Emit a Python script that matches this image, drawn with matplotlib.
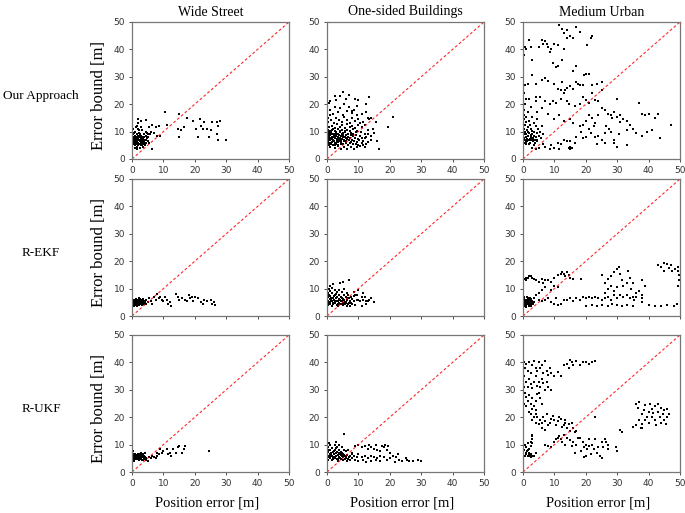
import matplotlib
matplotlib.use("Agg")
import matplotlib.pyplot as plt
import numpy as np

columns = ["Wide Street", "One-sided Buildings", "Medium Urban"]
rows = ["Our Approach", "R-EKF", "R-UKF"]
ticks = [0, 10, 20, 30, 40, 50]

# (position error, error bound) pairs
ws_ours = [
    (0.2, 6.5), (0.3, 8), (0.4, 5.5), (0.5, 7), (0.5, 9.5), (0.6, 6), (0.7, 7.5), (0.8, 5), (0.9, 8.5),
    (1.0, 6.5), (1.0, 10), (1.1, 7), (1.2, 5.5), (1.3, 8), (1.4, 6), (1.5, 9), (1.5, 4.5), (1.6, 7),
    (1.7, 6.5), (1.8, 8.5), (1.9, 5), (2.0, 7.5), (2.0, 6), (2.1, 9.5), (2.2, 7), (2.3, 5.5), (2.4, 8),
    (2.5, 6.5), (2.5, 4), (2.6, 7), (2.7, 9), (2.8, 6), (2.9, 7.5), (3.0, 5), (3.0, 8.5), (3.1, 6.5),
    (3.2, 7), (3.3, 10.5), (3.4, 6), (3.5, 7.5), (3.6, 5.5), (3.7, 8), (3.8, 6.5), (3.9, 9), (4.0, 7),
    (4.1, 5), (4.2, 6), (4.3, 8.5), (4.5, 7), (4.6, 6), (4.8, 7.5), (5.0, 6.5), (5.2, 8), (5.5, 6),
    (0.3, 11), (1.2, 11.5), (2.2, 10.5), (0.8, 4), (1.5, 3.5), (3.5, 4.5), (4.4, 10), (0.6, 8.2),
    (1.4, 7.7), (2.6, 8.3), (3.3, 5.2), (0.2, 9), (1.8, 10.8), (4.9, 9.5), (5.8, 9), (0.4, 7.2),
    (1.1, 6.2), (1.9, 7.2), (2.4, 6.8), (3.6, 6.8), (0.9, 7.8), (2.8, 7.2), (1.6, 5.8), (3.1, 7.9),
    (2, 14.5), (3, 14), (1.5, 12), (4.5, 14.3), (6.5, 12.5), (7.5, 11.5), (8.5, 12), (10.5, 17),
    (11, 12.5), (8, 8.5), (9, 8.5), (6.5, 3.5), (14.5, 11), (15, 16.5), (15, 8), (15.5, 10.5),
    (16.5, 11.5), (17.5, 15), (19.5, 14), (20.5, 11), (21, 8), (21.5, 14.5), (22, 12), (22.5, 11),
    (23, 13.5), (24, 11), (24.5, 8), (25, 10.5), (25.5, 13.5), (27, 13.5), (27, 9), (27.5, 7),
    (27.5, 12), (28, 14), (30, 7), (5, 9), (6, 10), (2, 13), (3, 11.5), (5.5, 11.5), (7, 9.5),
]

os_ours = [
    (1, 4.5), (2.5, 4), (3.5, 4.8), (4.5, 3.8), (5.5, 4.2), (6.5, 3.5), (7.5, 4.5), (8.5, 3.8),
    (9.5, 4.2), (10.5, 4.8), (12, 4.5), (0.5, 5), (0.3, 5.5), (1.2, 5.8), (2, 5.2), (2.8, 5.6),
    (3.6, 5.1), (4.3, 5.9), (5.1, 5.4), (5.9, 5.7), (6.7, 5.2), (7.4, 5.8), (8.2, 5.3), (9.1, 5.6),
    (10, 5.1), (11, 5.9), (12.5, 5.5), (0.2, 6.4), (0.9, 6.8), (1.6, 6.2), (2.3, 6.7), (3.1, 6.3),
    (3.8, 6.9), (4.6, 6.1), (5.3, 6.6), (6.1, 6.4), (6.9, 6.8), (7.7, 6.2), (8.6, 6.7), (9.4, 6.3),
    (10.3, 6.9), (11.5, 6.5), (13, 6.2), (0.4, 7.3), (1.1, 7.7), (1.8, 7.1), (2.6, 7.6), (3.3, 7.2),
    (4.1, 7.8), (4.8, 7.4), (5.6, 7.9), (6.4, 7.3), (7.2, 7.7), (8, 7.1), (8.9, 7.6), (9.8, 7.4),
    (11, 7.8), (12.5, 8), (14, 8.5), (0.2, 8.4), (0.8, 8.8), (1.5, 8.2), (2.2, 8.7), (2.9, 8.3),
    (3.7, 8.9), (4.4, 8.5), (5.2, 8.1), (6, 8.6), (6.8, 8.2), (7.6, 8.8), (8.4, 8.4), (9.3, 8.9),
    (10.5, 8.5), (12, 9), (0.5, 9.3), (1.3, 9.7), (2, 9.1), (2.8, 9.6), (3.5, 9.2), (4.2, 9.8),
    (5, 9.4), (5.8, 9.9), (6.6, 9.3), (7.5, 9.6), (8.3, 9.1), (9.2, 9.8), (10.8, 10), (0.3, 10.5),
    (1, 10.2), (1.8, 10.8), (2.6, 10.4), (3.4, 10.9), (4.1, 10.3), (4.9, 10.7), (5.7, 10.1),
    (6.5, 10.6), (7.3, 10.2), (8.2, 10.8), (9.5, 10.4), (0.6, 11.5), (1.5, 12.2), (2.4, 11.3),
    (3.2, 12.6), (4, 11.8), (4.8, 12.4), (5.6, 11.2), (6.4, 12.8), (7.2, 11.6), (8.1, 12.1),
    (9, 11.4), (10, 12.5), (11, 11.8), (12, 12.3), (0.4, 13.5), (1.3, 14.2), (2.2, 13.1), (3, 15),
    (3.9, 14.1), (4.7, 13.6), (5.5, 15.5), (6.3, 14.3), (7.2, 13.3), (8.1, 14.8), (9, 13.8),
    (10, 14.5), (11.5, 13.5), (0.8, 16), (2, 16.5), (3.5, 17), (5, 16.2), (6.5, 17.5), (8, 16.8),
    (9.5, 16), (0.3, 15), (1, 18), (2.5, 19), (4, 18.5), (5.5, 20), (0.5, 20.5), (3, 21.5), (7, 19),
    (8.5, 18), (9.5, 19.5), (0.1, 7), (0.7, 6), (1.4, 9), (2.1, 7.9), (2.7, 5.9), (3.4, 8.1), (4, 6.6),
    (4.7, 9.1), (1.9, 6.4), (3, 10), (0.5, 8), (1.7, 10.5), (2.4, 5), (3.8, 7.4), (4.5, 5.4),
    (1, 7.2), (2.2, 9.3), (3.6, 6.2), (0.4, 9.8), (1.3, 5.3), (0.6, 7.8), (1.6, 7.4), (2.5, 8.2),
    (3.2, 6.8), (4.3, 7.1), (5.4, 6.9), (6.2, 7.8), (0.9, 9.4), (2.9, 9.1), (5.1, 8.8),
    (5, 24.5), (2.5, 23), (7, 23.5), (10, 21.5), (13.5, 22.8), (1, 21), (6, 22), (12.5, 20),
    (13, 15), (14, 15), (13.5, 14.5), (21, 15.5), (19.5, 11.5), (15.5, 13.5), (16, 6.5),
    (16.5, 3.5), (13, 9), (12, 7.5), (11.5, 5), (10.5, 13), (14.5, 11), (13, 10.5), (15, 9.5),
    (12.5, 17), (11, 16.5), (14, 7), (9, 22), (4, 23), (8, 17.5),
]

mu_ours = [
    (0.2, 6), (0.4, 7.5), (0.6, 9), (0.8, 5.5), (1, 8), (1.2, 10.5), (1.4, 6.5), (1.6, 8.5), (1.8, 7),
    (2, 9.5), (2.2, 6), (2.4, 8), (2.6, 11), (2.8, 7.5), (3, 9), (3.2, 6.5), (3.4, 8.5), (3.6, 10),
    (3.8, 7), (4, 12), (4.2, 8), (4.4, 9.5), (4.6, 6.5), (4.8, 11), (5, 8.5), (0.3, 11), (0.5, 12.5),
    (1, 13.5), (0.2, 9.5), (1.5, 11.5), (2.3, 12.5), (3.5, 13), (0.7, 10), (1.3, 7.2), (1.9, 5.5),
    (2.5, 6.8), (3.1, 7.8), (3.7, 5.8), (4.3, 7), (0.1, 8.3), (0.9, 6.3), (1.7, 9.8), (2.9, 10.3),
    (5.5, 10), (6, 12), (5.8, 7.5), (6.5, 9), (0.5, 7), (1.1, 9.2), (2.1, 7.4), (2.7, 8.8), (3.3, 7.1),
    (0.4, 16), (0.3, 18), (0.6, 20), (0.2, 14.5), (1, 15.5), (2, 14), (3, 15.5), (4.5, 14.5),
    (1.5, 17), (2.5, 19), (0.8, 22), (4, 21), (0.3, 24), (0.5, 27),
    (11.5, 49), (12.5, 47.5), (14, 47), (15, 45), (16, 44), (17, 48), (18, 46.5), (13, 46), (14, 44),
    (22, 45), (21.5, 44), (20.5, 41.5), (10, 42), (11, 41.5), (8, 41), (7, 43), (7.5, 42), (6, 43.5),
    (6.5, 42), (5, 41), (1, 40), (0.5, 41), (0.3, 38), (2.5, 41), (3, 36), (2, 43.5), (8.5, 39),
    (9.5, 35), (10.5, 33.5), (11, 34), (12.5, 36), (13, 40), (9, 40), (3, 30.5), (1.5, 27.5),
    (4, 27.5), (6, 29), (7, 29.5), (8, 28.5), (10, 27.5), (12.5, 28), (11, 25.5), (12, 25),
    (13.5, 25), (14, 26), (15, 26.5), (16, 25.5), (17, 28), (17.5, 27.5), (18, 27), (19, 27),
    (19.5, 30.5), (20, 31), (21, 31), (16, 32), (17, 34), (22, 27), (23.5, 27.5), (25, 28), (22, 24),
    (21, 20.5), (24, 21), (25, 25), (23, 21.5), (2, 22), (4, 22.5), (5.5, 22.5), (7, 21), (8.5, 20),
    (9.5, 21), (10.5, 20.5), (12, 22), (13, 24), (14, 21), (14.5, 20), (16.5, 19.5), (18, 20),
    (19, 22.5), (20, 21.5), (4.5, 17), (6, 18.5), (8, 16.5), (10, 14.5), (11.5, 16), (13, 14),
    (15, 14.5), (16, 13), (18, 12), (19, 12.5), (20, 14), (21, 16), (22, 15), (23, 13), (24, 16),
    (25, 18.5), (26, 18), (27, 16.5), (28, 16), (28.5, 15), (29, 17), (30, 15.5), (30, 22), (31, 16),
    (32, 14.5), (31, 13.5), (33, 14), (34, 12.5), (35, 11), (36, 9.5), (37, 20.5), (38, 16.5),
    (39, 16), (40, 16.5), (39.5, 10), (38, 8.5), (41, 10.5), (42, 15), (43, 16.5), (43.5, 7.5),
    (47, 12.5), (33, 10.5), (30.5, 9), (28, 10), (29, 7), (26, 9.5), (26, 6), (25, 7), (24, 8.5),
    (23, 8), (23.5, 5.5), (21.5, 9.5), (20, 8), (18.5, 10), (17, 8), (16.5, 6), (15, 6.5), (15, 4.5),
    (14, 6.5), (13, 7), (12, 5.5), (11, 6), (11.5, 3.5), (10, 4), (9, 5), (8.5, 3.5), (7, 4.5),
    (6.5, 5.5), (5, 4), (4, 3.5), (3, 4), (3.5, 5), (33, 5), (30, 4.5), (29, 6), (26.5, 12),
    (27.5, 11), (19, 7.5), (21, 11), (22.5, 12), (14.5, 4), (15.5, 4), (15, 3.5),
]

ws_ekf = [
    (0.1, 4.5), (0.3, 5.2), (0.5, 4), (0.7, 5.8), (0.9, 4.8), (1.1, 5.5), (1.3, 4.2), (1.5, 6),
    (1.7, 5), (1.9, 4.4), (2.1, 5.6), (2.3, 4.9), (2.5, 6.2), (2.7, 4.6), (2.9, 5.3), (3.1, 4.1),
    (3.3, 5.9), (3.5, 5), (3.7, 4.5), (3.9, 5.5), (0.2, 6), (0.6, 3.8), (1, 5), (1.4, 5.3), (1.8, 5.9),
    (2.2, 4), (2.6, 5.1), (3, 4.7), (3.4, 6.3), (0.4, 4.8), (0.8, 5.2), (1.2, 4.6), (1.6, 5.7),
    (2, 5.1), (2.4, 4.4), (2.8, 5.8), (3.2, 5.4), (3.6, 4.3), (4, 5.1), (0.3, 3.5), (1.6, 3.7),
    (4.3, 4.5), (0.05, 5.5), (0.5, 5.5), (1.3, 6.3), (2.2, 6.5), (0.7, 4.4), (1.5, 4.7), (2.5, 5.4),
    (3.3, 4.8), (1.9, 5.4), (2.9, 4.3), (1.1, 4.1), (0.4, 5.9),
    (3, 6), (4.5, 6), (5, 5), (5.5, 6.5), (6, 5.5), (7, 7), (7.5, 6), (8, 8), (9, 7), (9.5, 6),
    (10, 5.5), (10.5, 7), (11, 6), (11.5, 4.5), (12, 5), (12.5, 3.5), (14, 8), (14.5, 7), (15, 6),
    (16, 6.5), (17, 6), (17.5, 5.5), (18, 7.5), (18.5, 6.5), (19, 7), (19.5, 5.5), (20, 7),
    (21, 6.5), (22, 5), (22.5, 4.5), (23, 6), (24, 5.5), (25, 6), (25.5, 4.5), (26, 5), (26.5, 4),
    (8.5, 6.5), (6.5, 4.5),
]

os_ekf = [
    (0.3, 4), (1, 4.5), (1.7, 3.8), (2.4, 4.6), (3.1, 4.1), (3.8, 4.8), (4.5, 4.3), (5.2, 3.9),
    (5.9, 4.7), (6.6, 4.2), (7.3, 3.7), (8, 4.5), (8.8, 4), (0.6, 4.9), (2, 4.9), (3.5, 3.6),
    (5, 4.9), (6.3, 3.6), (7.6, 4.9), (0.2, 5.5), (0.9, 6.1), (1.6, 5.3), (2.3, 5.9), (3, 5.4),
    (3.7, 6.3), (4.4, 5.6), (5.1, 6.2), (5.8, 5.2), (6.5, 5.8), (7.2, 5.4), (7.9, 6.2), (8.7, 5.6),
    (9.5, 5.9), (10.5, 5.5), (1.2, 5.7), (2.7, 5.1), (4, 5.9), (5.5, 5.7), (6.9, 6.4), (0.4, 6.8),
    (1.1, 7.4), (1.8, 6.7), (2.5, 7.6), (3.2, 6.9), (3.9, 7.5), (4.6, 6.8), (5.3, 7.7), (6, 7.1),
    (6.8, 7.6), (7.6, 6.9), (8.5, 7.3), (9.5, 7.8), (11, 7), (0.3, 8.5), (1, 9.2), (1.7, 8.3),
    (2.4, 9.6), (3.1, 8.8), (3.9, 9.4), (4.7, 8.6), (5.5, 9.8), (6.3, 8.4), (0.5, 10), (1.5, 10.3),
    (8.5, 8.6), (10, 9.5), (9, 7.5), (0.8, 5), (1.9, 4.3), (2.9, 6.6), (4.2, 4.5), (4.9, 5.3),
    (6.1, 5), (7, 4.8), (0.1, 6.2), (1.4, 6.4), (2.1, 7.2), (3.4, 5.6), (4.8, 6.5), (5.6, 4.4),
    (0.6, 7.6), (2.8, 8.1), (3.6, 4.4), (6.4, 6.6),
    (4, 12), (5, 12.5), (2, 11.5), (7, 13), (1, 10.8), (11.5, 8.5), (12, 7), (13, 5.5), (13.5, 6),
    (14, 6.5), (12.5, 4.5), (11, 3.5), (15, 5), (10, 6), (11.5, 6), (12.5, 5.5),
]

mu_ekf = [
    (0.1, 4), (0.3, 5), (0.5, 4.5), (0.7, 6), (0.9, 3.5), (1.1, 5.5), (1.3, 4.2), (1.5, 6.5), (1.7, 5),
    (1.9, 4.5), (2.1, 5.8), (2.3, 4), (2.5, 5.2), (2.7, 6.2), (2.9, 4.8), (0.2, 6.5), (0.6, 5.4),
    (1, 4.8), (1.4, 5.9), (1.8, 3.8), (2.2, 5), (2.6, 4.4), (3, 5.6), (0.4, 3.8), (0.8, 5.8),
    (1.2, 6.8), (1.6, 4.6), (2, 6), (2.4, 3.6), (2.8, 5.4), (3.2, 4.3), (3.5, 5.1), (0.3, 7),
    (1.1, 3.2), (0.5, 5.9), (1.3, 5.1), (2, 4.2), (0.7, 4.4), (1.5, 5.3), (2.3, 6.4),
    (0.2, 13.5), (0.8, 14), (1.5, 14), (2, 14.5), (2.5, 14.5), (3, 14), (3.5, 13.5), (1, 13),
    (4, 13), (5, 12.5), (6, 13.5), (6.5, 12), (7, 13), (8, 13), (9, 12.5), (10, 14), (11, 15),
    (12, 15.5), (12.5, 16), (13, 15.5), (13.5, 14.5), (14, 16), (14.5, 15), (15, 14), (16, 13.5),
    (18.5, 13.5), (10, 11), (11, 10.5), (9, 9.5), (7, 10.5), (6, 9.5), (5, 8.5), (4, 7.5),
    (3.5, 6.5), (5, 6), (6, 5.5), (7, 6), (8, 6.5), (9, 5), (10, 4.5), (10.5, 6.5), (11, 4),
    (12, 4.5), (13, 6), (14, 6), (15, 6.5), (16, 5.5), (17, 6.5), (18, 6), (19, 7), (20, 6.5),
    (21, 7), (22, 6.5), (23, 7), (24, 6.5), (25, 6), (26, 6.5), (27, 7), (28, 6), (29, 7.5),
    (30, 6.5), (31, 7.5), (32, 7), (33, 7.5), (34, 6.5), (35, 7), (36, 7), (38, 6.5), (20, 3.5),
    (22, 4), (23.5, 3.5), (25, 4), (27, 3.5), (28.5, 4.5), (30, 4), (31.5, 3.5), (33, 4), (35, 3.5),
    (38, 5), (40, 4), (42, 3.5), (44, 3.5), (46, 4), (48, 3.5), (49, 4.5), (25, 15), (26, 12),
    (27, 13.5), (28, 14.5), (29, 16), (30, 17), (30.5, 18), (31, 15.5), (31.5, 13), (32, 11),
    (33, 12), (33.5, 16.5), (34, 14), (34.5, 10), (35, 12), (36, 8.5), (30, 10.5), (29, 9), (28, 11),
    (27, 10), (26, 8.5), (37, 9), (38, 13), (39, 11), (43, 18.5), (44, 18), (45, 19.5), (46, 19),
    (46.5, 17.5), (47, 18.5), (47.5, 16.5), (48.5, 17), (49.5, 16.5), (49.5, 11), (49.8, 13),
    (49.8, 15), (49.5, 18), (45, 16.5), (38, 7.5), (35.5, 6),
]

ws_ukf = [
    (0.1, 5), (0.3, 5.6), (0.5, 4.4), (0.7, 6.1), (0.9, 5.2), (1.1, 5.8), (1.3, 4.6), (1.5, 6.3),
    (1.7, 5.4), (1.9, 4.8), (2.1, 5.9), (2.3, 5.2), (2.5, 6.4), (2.7, 4.9), (2.9, 5.6), (3.1, 4.5),
    (3.3, 6), (3.5, 5.3), (3.7, 4.7), (3.9, 5.8), (4.1, 5.1), (4.3, 4.6), (0.2, 6.5), (0.6, 4.1),
    (1, 5.4), (1.4, 5.6), (1.8, 6.2), (2.2, 4.3), (2.6, 5.5), (3, 5), (3.4, 6.5), (0.4, 5.1),
    (0.8, 5.6), (1.2, 4.9), (1.6, 6), (2, 5.4), (2.4, 4.7), (2.8, 6.1), (3.2, 5.7), (3.6, 4.5),
    (4, 5.5), (4.5, 4.3), (0.3, 7.5), (1, 6.5), (2, 6.7), (3, 7), (4, 7), (4.5, 5), (5, 4),
    (6, 5), (7, 5.5), (7.5, 5), (8, 6), (8.5, 6.5), (8, 7), (9, 8.5), (9.5, 7), (10, 7.5),
    (11, 8.5), (11.5, 6.5), (12, 7), (12.5, 6), (13, 8.5), (14, 7), (14.5, 9), (15, 9.5), (16, 7),
    (16.5, 8.5), (17, 9.5), (24.5, 7.5), (5.5, 5.5), (6.5, 6),
]

os_ukf = [
    (0.3, 4.5), (1, 5), (1.7, 4.3), (2.4, 5.1), (3.1, 4.6), (3.8, 5.3), (4.5, 4.8), (5.2, 4.4),
    (5.9, 5.2), (6.6, 4.7), (7.3, 4.2), (8, 5), (0.6, 5.4), (2, 5.4), (3.5, 4.1), (5, 5.4),
    (6.3, 4.1), (0.2, 6), (0.9, 6.6), (1.6, 5.8), (2.3, 6.4), (3, 5.9), (3.7, 6.8), (4.4, 6.1),
    (5.1, 6.7), (5.8, 5.7), (6.5, 6.3), (7.2, 5.9), (7.9, 6.7), (1.2, 6.2), (2.7, 5.6), (4, 6.4),
    (5.5, 6.2), (0.4, 7.3), (1.1, 7.9), (1.8, 7.2), (2.5, 8.1), (3.2, 7.4), (3.9, 8), (4.6, 7.3),
    (5.3, 8.2), (6, 7.6), (6.8, 8.1), (0.3, 9), (1, 9.7), (1.7, 8.8), (2.4, 10), (3.1, 9.3),
    (3.9, 9.9), (4.7, 9.1), (0.5, 10.5), (0.8, 5.7), (1.9, 4.7), (2.9, 7.1), (4.2, 5), (4.9, 5.8),
    (6.1, 5.5), (7, 5.3), (0.1, 6.7), (1.4, 6.9), (2.1, 7.7), (3.4, 6.1), (4.8, 7), (5.6, 4.9),
    (0.6, 8.1), (2.8, 8.6), (3.6, 4.9),
    (5.5, 14), (3, 11), (8, 7), (9, 9.5), (10, 10), (11, 9), (12, 9.5), (13, 8.5), (13.5, 10),
    (14, 9), (15, 8.5), (15.5, 10), (16, 8), (17, 7.5), (17.5, 9.5), (18, 9), (18.5, 10), (19, 8),
    (19.5, 9.5), (20, 7), (10, 6.5), (11, 5.5), (12, 6), (13, 5), (14, 6), (15, 5.5), (15.5, 4.5),
    (16, 5), (17, 6), (18, 5.5), (19, 4.5), (20, 5), (21, 6), (21.5, 3.5), (22, 5.5), (22.5, 6.5),
    (23, 4.5), (24, 4), (25, 5), (25.5, 4.5), (26, 4), (27.5, 4), (29, 4.5), (30, 4), (9, 4.5),
    (10, 4), (11.5, 4.5), (12.5, 3.5), (14, 4), (17, 4), (8, 5), (8.5, 6), (9.5, 5.5),
]

mu_ukf = [
    (0.3, 40), (0.5, 38), (1, 39.5), (1.5, 37), (2, 40), (2.5, 36), (3, 39), (3.5, 40.5), (4, 38),
    (4.5, 37), (5, 40), (5.5, 38), (6, 39), (6.5, 36), (7, 40.5), (7.5, 37), (8, 35.5), (8.5, 38),
    (9, 36), (10, 35), (11, 36.5), (12, 35), (0.8, 33), (1.5, 31), (2, 34), (2.5, 32), (3, 30.5),
    (3.5, 33), (4, 35), (4.5, 31.5), (5, 33), (5.5, 31), (6, 34), (6.5, 32.5), (7, 30), (7.5, 33),
    (8, 31), (9, 30), (0.5, 29), (1, 27.5), (1.5, 26), (2, 28), (2.5, 25), (3, 27), (3.5, 24),
    (4, 26), (4.5, 28.5), (5, 29), (5.5, 27), (6, 25), (1, 24), (2, 22), (2.5, 21), (3, 23),
    (3.5, 20), (4, 22.5), (0.3, 25), (0.3, 31), (0.3, 35),
    (13, 39), (14, 39.5), (15, 41), (15.5, 40), (16, 39), (17, 40.5), (18, 39), (19, 40), (20, 40),
    (21, 39.5), (22, 40), (23, 40.5), (14.5, 38),
    (3, 19), (4, 18), (4.5, 20), (5, 17.5), (5.5, 19), (6, 18), (6.5, 20), (7, 18.5), (7.5, 21),
    (8, 17), (8.5, 18), (9, 19.5), (9.5, 20.5), (10, 19), (10.5, 17), (11, 18.5), (11.5, 20),
    (12, 19.5), (12.5, 16.5), (13, 17), (13.5, 18), (14, 16), (14.5, 17.5), (15, 15), (15.5, 18),
    (16, 16), (16.5, 14.5), (17, 15), (7, 15.5), (6, 16), (4, 21), (13.5, 19),
    (0.5, 6), (1, 6.5), (1.5, 6), (2, 6.5), (2.5, 5.5), (3, 6), (0.8, 7), (1.2, 7.5), (1.5, 8),
    (2, 8.5), (2.5, 9.5), (3, 10.5), (2.5, 11), (3, 12), (3, 13), (2.8, 13.5), (0.5, 10), (1, 9),
    (1.5, 10.5), (0.3, 8), (2, 7), (3.5, 6), (4, 7), (1.8, 5.8), (2.2, 6.2), (2.7, 6.4), (3.2, 5.7),
    (7, 10), (8, 9.5), (9, 9), (10, 11), (10.5, 12), (11, 12.5), (11.5, 13), (12, 12), (12.5, 11),
    (13, 13.5), (13.5, 10), (14, 12.5), (15, 11.5), (15.5, 9.5), (16, 11), (16.5, 7), (17, 10),
    (18, 12.5), (19, 11), (19.5, 9), (20, 10), (20.5, 8.5), (21, 9.5), (21.5, 6.5), (22, 10),
    (22.5, 8.5), (23, 12), (23, 20), (24, 9), (24.5, 6), (25, 5), (25, 11), (26, 12), (27, 10),
    (27, 8.5), (29.5, 9), (29.8, 7.5), (20, 6), (19.5, 5.5), (25.5, 9), (18.5, 7.5), (23.5, 7),
    (26.5, 11), (17.5, 12.5), (21, 12),
    (31, 15.5), (31.5, 14.5), (35, 16.5), (36, 17), (36, 25), (36.5, 23.5), (37, 25.5), (37.5, 16),
    (38, 17.5), (38, 21), (38.5, 22.5), (39, 19), (39, 24.5), (39.5, 20), (40, 22), (40, 18),
    (40.5, 25), (41, 20), (41, 23), (41.5, 21.5), (42, 19), (42, 24), (42.5, 17), (43, 22), (43, 25),
    (43.5, 20), (44, 18), (44, 23.5), (44.5, 21), (45, 22.5), (45, 19), (45.5, 17.5), (46, 23),
    (46, 20), (46.5, 21), (37, 19), (38, 16),
]

panels = [
    [ws_ours, os_ours, mu_ours],
    [ws_ekf, os_ekf, mu_ekf],
    [ws_ukf, os_ukf, mu_ukf],
]

serif = "Liberation Serif"

fig = plt.figure(figsize=(6.85, 5.13), dpi=100)

col_left = [132, 327, 523]
row_top = [22, 179, 335]
w_px, h_px = 157, 137
W, H = 685, 513

for r in range(3):
    for c in range(3):
        ax = fig.add_axes([col_left[c] / W, 1 - (row_top[r] + h_px) / H, w_px / W, h_px / H])
        pts = np.array(panels[r][c])
        ax.scatter(pts[:, 0], pts[:, 1], s=1.6, c="black", marker="s", linewidths=0)
        ax.plot([0, 50], [0, 50], color="red", linestyle=(0, (2.5, 2)), linewidth=0.8, alpha=0.85)
        ax.set_xlim(0, 50)
        ax.set_ylim(0, 50)
        ax.set_xticks(ticks)
        ax.set_yticks(ticks)
        ax.tick_params(labelsize=6.5, colors="#333333", length=2.5, width=0.6, pad=2.5)
        if r == 1:
            ax.set_xticklabels([])
        for sp in ax.spines.values():
            sp.set_color("#777777")
            sp.set_linewidth(0.9)
        if r == 0:
            fig.text((col_left[c] + w_px / 2) / W, 1 - 12 / H, columns[c],
                     ha="center", va="center", fontsize=10, family=serif)
        if r == 2:
            fig.text((col_left[c] + w_px / 2 - 3) / W, 1 - 503 / H, "Position error [m]",
                     ha="center", va="center", fontsize=10.5, family=serif)
    yc = 1 - (row_top[r] + h_px / 2 + 5) / H
    fig.text(41 / W, yc, rows[r], ha="center", va="center", fontsize=9.5, family=serif)
    fig.text(99 / W, yc, "Error bound [m]", ha="center", va="center", rotation=90,
             fontsize=12, family=serif)

fig.savefig("out.png", dpi=100)
